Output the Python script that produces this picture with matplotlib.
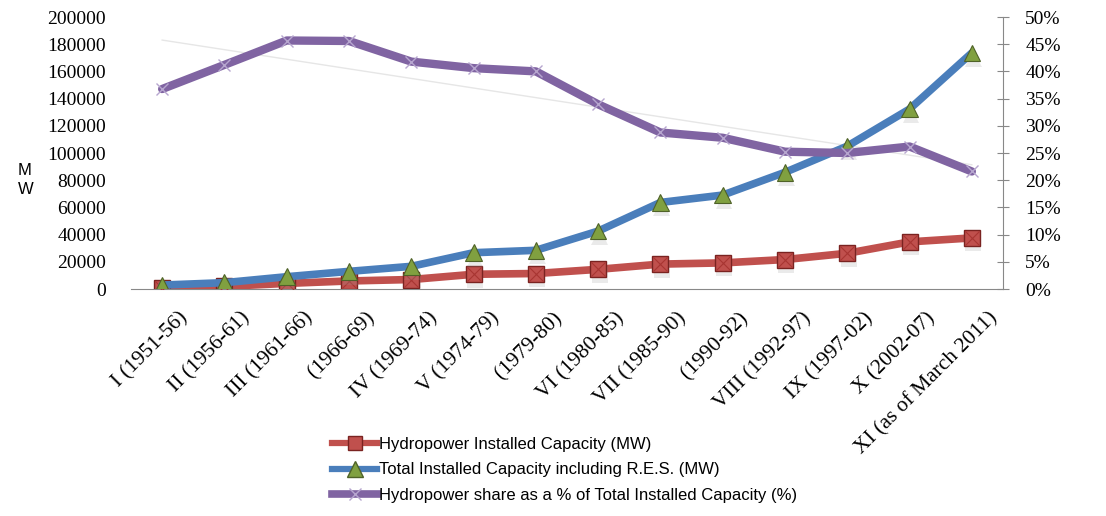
import matplotlib
matplotlib.use("Agg")
import matplotlib.pyplot as plt
import numpy as np
from matplotlib.lines import Line2D
from matplotlib.ticker import FuncFormatter
import matplotlib.patheffects as pe
import matplotlib.transforms as mtrans

categories = ["I (1951-56)", "II (1956-61)", "III (1961-66)", "(1966-69)", "IV (1969-74)",
              "V (1974-79)", "(1979-80)", "VI (1980-85)", "VII (1985-90)", "(1990-92)",
              "VIII (1992-97)", "IX (1997-02)", "X (2002-07)", "XI (as of March 2011)"]
hydro_mw = [1061, 1917, 4124, 5907, 6966, 10833, 11384, 14460, 18307, 19194, 21658, 26269, 34654, 37567]
total_mw = [2886, 4653, 9027, 12957, 16664, 26680, 28448, 42585, 63636, 69065, 85795, 105046, 132329, 173626]
hydro_share = [36.76, 41.2, 45.68, 45.59, 41.8, 40.6, 40.0, 33.95, 28.77, 27.8, 25.24, 25.0, 26.19, 21.6]

label_hydro = "Hydropower Installed Capacity (MW)"
label_total = "Total Installed Capacity including R.E.S. (MW)"
label_share = "Hydropower share as a % of Total Installed Capacity (%)"

RED = "#c0504d"
RED_EDGE = "#7a2321"
BLUE = "#4a7ebb"
GREEN = "#80a040"
GREEN_EDGE = "#4f6228"
PURPLE = "#8064a2"
PURPLE_M = "#b7a6cf"

serif = "Liberation Serif"
sans = "Liberation Sans"

fig = plt.figure(figsize=(11.06, 5.16), dpi=100)
ax = fig.add_axes([131/1106, 1-289/516, (1003-131)/1106, (289-17)/516])
ax2 = ax.twinx()

x = np.arange(len(categories))
shadow = [pe.SimplePatchShadow(offset=(1, -4), shadow_rgbFace="#999999", alpha=0.2), pe.Normal()]

# hydro
ax.plot(x, hydro_mw, color=RED, lw=5.5, solid_capstyle="round", zorder=3)
ax.plot(x, hydro_mw, ls="none", marker="s", ms=11.5, mfc=RED, mec=RED_EDGE, mew=1,
        zorder=4, path_effects=shadow)
ax.plot(x, hydro_mw, ls="none", marker="x", ms=10, mec="#a83532", mew=0.8, zorder=4.1)
# total
ax.plot(x, total_mw, color=BLUE, lw=5.5, solid_capstyle="round", zorder=5)
ax.plot(x, total_mw, ls="none", marker="^", ms=12, mfc=GREEN, mec=GREEN_EDGE, mew=0.8,
        zorder=6, path_effects=shadow)

# linear trendline of the share series, drawn on primary axes with the secondary transform
coef = np.polyfit(x, hydro_share, 1)
trend = np.polyval(coef, x)
ax.plot(x, np.array(trend) / 100, color="#e6e6e6", lw=1, zorder=2, transform=ax2.transData)

# share
share = np.array(hydro_share) / 100
ax2.plot(x, share, color=PURPLE, lw=6, solid_joinstyle="round", solid_capstyle="round", zorder=3)
ax2.plot(x, share, ls="none", marker="x", ms=8, mec=PURPLE_M, mew=1, zorder=4)

ax.set_xlim(-0.5, len(categories) - 0.5)
ax.set_ylim(0, 200000)
ax2.set_ylim(0, 0.5)
ax.set_yticks(np.arange(0, 200001, 20000))
ax2.set_yticks(np.arange(0, 0.501, 0.05))
ax2.yaxis.set_major_formatter(FuncFormatter(lambda v, p: f"{int(round(v*100))}%"))

for sp in ["top", "left"]:
    ax.spines[sp].set_visible(False)
    ax2.spines[sp].set_visible(False)
ax.spines["right"].set_visible(False)
ax2.spines["bottom"].set_visible(False)
ax.spines["bottom"].set_color("#888888")
ax2.spines["right"].set_color("#888888")

ax.tick_params(axis="y", length=0, pad=18, labelsize=14)
for t in ax.get_yticklabels():
    t.set_fontfamily(serif)
ax2.tick_params(axis="y", direction="inout", length=8, color="#888888", pad=12, labelsize=14)
for t in ax2.get_yticklabels():
    t.set_fontfamily(serif)

ax.set_xticks(x)
ax.set_xticklabels(categories, rotation=45, ha="right", va="top", fontsize=15.5,
                   fontfamily=serif)
ax.tick_params(axis="x", length=0, pad=14)
offset = mtrans.ScaledTranslation(0.30, 0, fig.dpi_scale_trans)
for t in ax.get_xticklabels():
    t.set_transform(t.get_transform() + offset)

fig.text(18/1106, 1-180/516, "M\nW", fontsize=12, fontfamily=sans, ha="left", va="center",
         linespacing=1.4)

handles = [
    Line2D([], [], color=RED, lw=4.5, marker="s", ms=10, mfc=RED, mec=RED_EDGE),
    Line2D([], [], color=BLUE, lw=4.5, marker="^", ms=11, mfc=GREEN, mec=GREEN_EDGE),
    Line2D([], [], color=PURPLE, lw=5.5, marker="x", ms=8, mec=PURPLE_M, mew=1),
]
fig.legend(handles, [label_hydro, label_total, label_share], loc="upper left",
           bbox_to_anchor=(332/1106, 1-437/516), frameon=False,
           prop={"family": sans, "size": 12}, handlelength=2.7, handletextpad=0.1,
           labelspacing=0.62, borderaxespad=0, borderpad=0)

fig.savefig("out.png", dpi=100)
